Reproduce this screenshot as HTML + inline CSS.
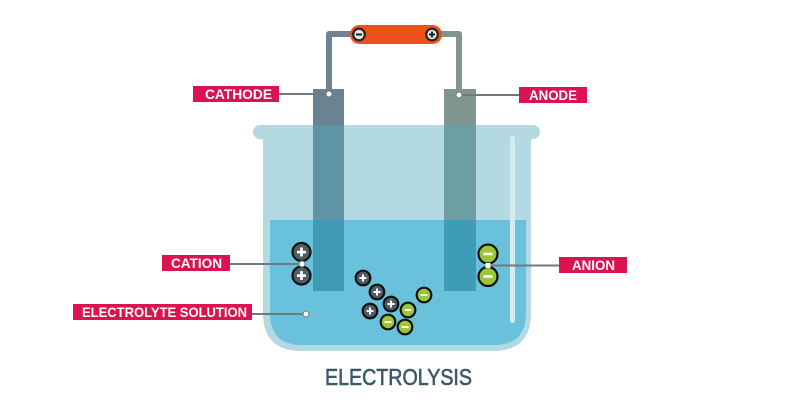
<!DOCTYPE html>
<html><head><meta charset="utf-8"><style>
html,body{margin:0;padding:0;background:#fff;}
svg{display:block;}
text{font-family:"Liberation Sans",sans-serif;}
</style></head><body>
<svg width="800" height="400" viewBox="0 0 800 400" xmlns="http://www.w3.org/2000/svg">
<rect width="800" height="400" fill="#fff"/>
<!-- wires -->
<path d="M329 92 V34 H356" fill="none" stroke="#6e8591" stroke-width="6" stroke-linejoin="round"/>
<path d="M438 34 H459 V92" fill="none" stroke="#82968f" stroke-width="6" stroke-linejoin="round"/>
<!-- battery -->
<rect x="350" y="25" width="92" height="19" rx="9.5" fill="#f05019"/>
<circle cx="359" cy="34.5" r="5.8" fill="#e6e6e6" stroke="#222" stroke-width="2.2"/>
<rect x="356" y="33.5" width="6" height="2" fill="#222"/>
<circle cx="432" cy="34.5" r="5.8" fill="#e6e6e6" stroke="#222" stroke-width="2.2"/>
<rect x="429" y="33.5" width="6" height="2" fill="#222"/>
<rect x="431" y="31.5" width="2" height="6" fill="#222"/>
<!-- electrodes above beaker -->
<rect x="313" y="89" width="31" height="40" fill="#6b8391"/>
<rect x="444" y="89" width="32" height="40" fill="#80958f"/>
<!-- beaker -->
<rect x="253" y="125" width="287" height="14" rx="7" fill="#b3d9e2"/>
<path d="M263 135 H531 V313 Q531 351 493 351 H301 Q263 351 263 313 Z" fill="#b3d9e2"/>
<path d="M270 220 H526 V313 Q526 345 494 345 H302 Q270 345 270 313 Z" fill="#69c1dc"/>
<!-- electrodes in glass -->
<rect x="313" y="125" width="31" height="95" fill="#5f94a4"/>
<rect x="444" y="125" width="32" height="95" fill="#6c9ea2"/>
<!-- electrodes in liquid -->
<rect x="313" y="220" width="31" height="71" fill="#3f9ab8"/>
<rect x="444" y="220" width="32" height="71" fill="#3f9cb6"/>
<!-- highlight -->
<rect x="510" y="136" width="5" height="187" rx="2.5" fill="#d4ebf0"/>
<!-- connector lines -->
<g stroke="#6f7a80" stroke-width="2">
<line x1="279" y1="94" x2="329" y2="94"/>
<line x1="459" y1="95" x2="519" y2="95"/>
<line x1="230" y1="264" x2="302" y2="264"/>
<line x1="252" y1="314" x2="306" y2="314"/>
<line x1="488" y1="265.5" x2="559" y2="265.5"/>
</g>
<!-- big ions -->
<g stroke="#111" stroke-width="2.2">
<circle cx="301.5" cy="252" r="9" fill="#505d64"/>
<circle cx="301.5" cy="275.5" r="9" fill="#505d64"/>
<circle cx="488" cy="254" r="9.5" fill="#9cc63a"/>
<circle cx="488" cy="276.5" r="9.5" fill="#9cc63a"/>
</g>
<g fill="#fff">
<rect x="297" y="250.8" width="9" height="2.6"/><rect x="300.2" y="247.5" width="2.6" height="9"/>
<rect x="297" y="274.3" width="9" height="2.6"/><rect x="300.2" y="271" width="2.6" height="9"/>
<rect x="483.5" y="252.7" width="9" height="2.6"/>
<rect x="483.5" y="275.2" width="9" height="2.6"/>
</g>
<!-- small ions -->
<g stroke="#111" stroke-width="2.2">
<circle cx="363" cy="278" r="7.3" fill="#505d64"/>
<circle cx="377" cy="292" r="7.3" fill="#505d64"/>
<circle cx="391" cy="304" r="7.3" fill="#505d64"/>
<circle cx="370" cy="311" r="7.3" fill="#505d64"/>
<circle cx="424" cy="295" r="7.3" fill="#9cc63a"/>
<circle cx="408" cy="310" r="7.3" fill="#9cc63a"/>
<circle cx="388" cy="322" r="7.3" fill="#9cc63a"/>
<circle cx="405" cy="327" r="7.3" fill="#9cc63a"/>
</g>
<g fill="#fff">
<rect x="359.5" y="277" width="7" height="2"/><rect x="362" y="274.5" width="2" height="7"/>
<rect x="373.5" y="291" width="7" height="2"/><rect x="376" y="288.5" width="2" height="7"/>
<rect x="387.5" y="303" width="7" height="2"/><rect x="390" y="300.5" width="2" height="7"/>
<rect x="366.5" y="310" width="7" height="2"/><rect x="369" y="307.5" width="2" height="7"/>
<rect x="420.5" y="294" width="7" height="2"/>
<rect x="404.5" y="309" width="7" height="2"/>
<rect x="384.5" y="321" width="7" height="2"/>
<rect x="401.5" y="326" width="7" height="2"/>
</g>
<!-- dots -->
<g fill="#fff" stroke="#6f7a80" stroke-width="1">
<circle cx="329" cy="94" r="3"/>
<circle cx="459" cy="95" r="3"/>
<circle cx="302" cy="264" r="3"/>
<circle cx="306" cy="314" r="3"/>
</g>
<rect x="485.5" y="263" width="5" height="5" fill="#fff"/>
<!-- labels -->
<g fill="#dc1350">
<rect x="193" y="86" width="86" height="16"/>
<rect x="519" y="87" width="68" height="16"/>
<rect x="162" y="255" width="68" height="16"/>
<rect x="73" y="304" width="179" height="16"/>
<rect x="559" y="257" width="68" height="16"/>
</g>
<g fill="#fff" font-weight="bold" font-size="14" text-anchor="middle">
<text x="238.5" y="99" textLength="67" lengthAdjust="spacingAndGlyphs">CATHODE</text>
<text x="553" y="100" textLength="48" lengthAdjust="spacingAndGlyphs">ANODE</text>
<text x="196.5" y="268" textLength="51" lengthAdjust="spacingAndGlyphs">CATION</text>
<text x="164.5" y="317" textLength="165" lengthAdjust="spacingAndGlyphs">ELECTROLYTE SOLUTION</text>
<text x="593.5" y="270" textLength="43" lengthAdjust="spacingAndGlyphs">ANION</text>
</g>
<text x="398.5" y="385" font-size="23" fill="#3a5a68" stroke="#3a5a68" stroke-width="0.6" text-anchor="middle" textLength="147" lengthAdjust="spacingAndGlyphs">ELECTROLYSIS</text>
</svg>
</body></html>
